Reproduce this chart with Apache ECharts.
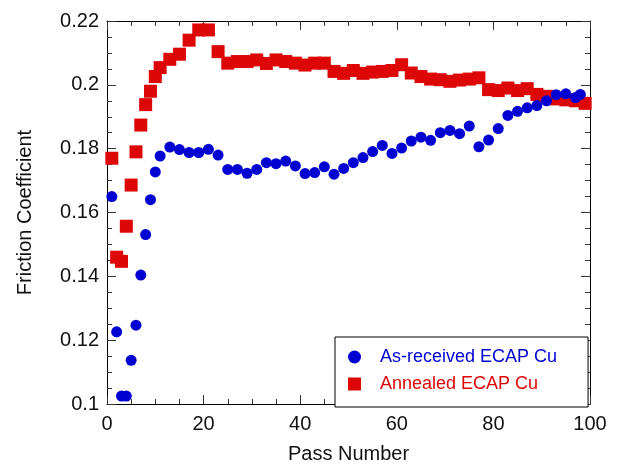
<!DOCTYPE html>
<html>
<head>
<meta charset="utf-8">
<script src="https://cdn.jsdelivr.net/npm/echarts@6/dist/echarts.min.js"></script>
<style>
  html, body { margin: 0; padding: 0; background: #fff; }
  #chart { width: 618px; height: 469px; }
</style>
</head>
<body>
<div id="chart"></div>
<script>
// pass numbers and friction values
const asReceivedPass = [1, 2, 3, 4, 5, 6, 7, 8, 9, 10, 11, 13, 15, 17, 19, 21, 23, 25, 27, 29, 31, 33, 35, 37, 39, 41, 43, 45, 47, 49, 51, 53, 55, 57, 59, 61, 63, 65, 67, 69, 71, 73, 75, 77, 79, 81, 83, 85, 87, 89, 91, 93, 95, 97, 98];
const asReceivedMu = [0.165, 0.1226, 0.1025, 0.1025, 0.1137, 0.1247, 0.1404, 0.1531, 0.164, 0.1727, 0.1777, 0.1805, 0.1797, 0.1788, 0.1788, 0.1798, 0.178, 0.1735, 0.1735, 0.1723, 0.1735, 0.1756, 0.1753, 0.1761, 0.1746, 0.1722, 0.1725, 0.1743, 0.172, 0.1738, 0.1756, 0.1772, 0.1791, 0.181, 0.1785, 0.1802, 0.1824, 0.1836, 0.1826, 0.185, 0.1857, 0.1847, 0.1871, 0.1806, 0.1827, 0.1863, 0.1904, 0.1917, 0.1928, 0.1935, 0.195, 0.1969, 0.1972, 0.196, 0.197];

const annealedPass = [1, 2, 3, 4, 5, 6, 7, 8, 9, 10, 11, 13, 15, 17, 19, 21, 23, 25, 27, 29, 31, 33, 35, 37, 39, 41, 43, 45, 47, 49, 51, 53, 55, 57, 59, 61, 63, 65, 67, 69, 71, 73, 75, 77, 79, 81, 83, 85, 87, 89, 91, 93, 95, 97, 99];
const annealedMu = [0.177, 0.146, 0.1447, 0.1557, 0.1686, 0.179, 0.1874, 0.1938, 0.198, 0.2026, 0.2054, 0.208, 0.2096, 0.214, 0.2172, 0.2172, 0.2104, 0.2068, 0.2073, 0.2073, 0.2078, 0.2067, 0.2078, 0.2073, 0.2068, 0.2062, 0.2068, 0.2068, 0.2042, 0.2036, 0.2045, 0.2036, 0.204, 0.2042, 0.2045, 0.2063, 0.2037, 0.2026, 0.2018, 0.2016, 0.2011, 0.2015, 0.2018, 0.2022, 0.1985, 0.1982, 0.199, 0.1982, 0.1988, 0.197, 0.1964, 0.1956, 0.1953, 0.195, 0.1942];

const xTicks = [0, 20, 40, 60, 80, 100];
const yTicks = [0.1, 0.12, 0.14, 0.16, 0.18, 0.2, 0.22];

const blue = "#0000d2";
const red = "#dd0707";
const font = "Liberation Sans, Arial, sans-serif";

function pairs(xs, ys) {
  return xs.map((x, i) => [x, ys[i]]);
}

function frameAxis(extra) {
  return Object.assign({
    axisLine: { show: true, onZero: false, lineStyle: { color: "#000", width: 1 } },
    axisTick: { show: true, inside: true, length: 9, lineStyle: { color: "#333", width: 1 } },
    minorTick: { show: true, splitNumber: 4, length: 5, lineStyle: { color: "#333", width: 1 } },
    splitLine: { show: false },
    minorSplitLine: { show: false }
  }, extra);
}

const chart = echarts.init(document.getElementById("chart"), null, { renderer: "canvas" });

chart.setOption({
  backgroundColor: "#fff",
  animation: false,
  grid: { left: 107, right: 28, top: 21, bottom: 62, containLabel: false },
  xAxis: [
    frameAxis({
      type: "value", min: xTicks[0], max: xTicks[xTicks.length - 1], interval: 20,
      position: "bottom",
      name: "Pass Number", nameLocation: "middle", nameGap: 40,
      nameTextStyle: { fontFamily: font, fontSize: 20, color: "#111" },
      axisLabel: { fontFamily: font, fontSize: 20, color: "#111", margin: 10 }
    }),
    frameAxis({
      type: "value", min: xTicks[0], max: xTicks[xTicks.length - 1], interval: 20,
      position: "top", axisLabel: { show: false }
    })
  ],
  yAxis: [
    frameAxis({
      type: "value", min: yTicks[0], max: yTicks[yTicks.length - 1], interval: 0.02,
      position: "left",
      name: "Friction Coefficient", nameLocation: "middle", nameGap: 72,
      nameTextStyle: { fontFamily: font, fontSize: 20, color: "#111" },
      axisLabel: {
        fontFamily: font, fontSize: 20, color: "#111", margin: 8,
        formatter: v => String(+v.toFixed(2))
      }
    }),
    frameAxis({
      type: "value", min: yTicks[0], max: yTicks[yTicks.length - 1], interval: 0.02,
      position: "right", axisLabel: { show: false }
    })
  ],
  legend: {
    orient: "vertical",
    left: 335, top: 337,
    padding: [11, 31, 14, 13],
    itemGap: 9,
    itemWidth: 13, itemHeight: 13,
    backgroundColor: "#fff",
    borderColor: "#000", borderWidth: 1,
    textStyle: { fontFamily: font, fontSize: 18, padding: [0, 0, 0, 14] },
    data: [
      { name: "As-received ECAP Cu", icon: "circle", textStyle: { color: blue } },
      { name: "Annealed ECAP Cu", icon: "rect", textStyle: { color: red } }
    ]
  },
  series: [
    {
      name: "Annealed ECAP Cu",
      type: "scatter",
      symbol: "rect",
      symbolSize: 13,
      itemStyle: { color: red, opacity: 1 },
      data: pairs(annealedPass, annealedMu),
      z: 2
    },
    {
      name: "As-received ECAP Cu",
      type: "scatter",
      symbol: "circle",
      symbolSize: 11,
      itemStyle: { color: blue, opacity: 1 },
      data: pairs(asReceivedPass, asReceivedMu),
      z: 3
    }
  ]
});
</script>
</body>
</html>
